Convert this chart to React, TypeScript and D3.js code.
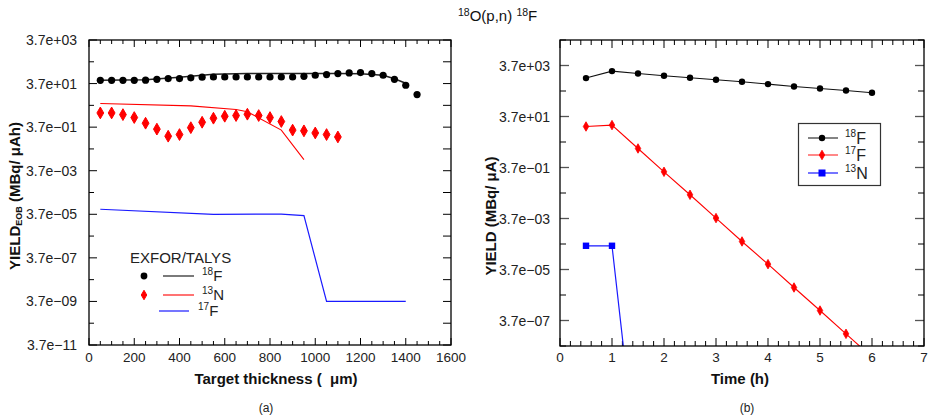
import React from 'react';
import * as d3 from 'd3';

// ---------- Panel (a): yield vs target thickness ----------
const expThickness = [50,100,150,200,250,300,350,400,450,500,550,600,650,700,750,800,850,900,950,1000,1050,1100,1150,1200,1250,1300,1350,1400,1450];
const expF18 = [52,52,52,52,53,58,63,63,68,73,74,74,74,74,74,74,74,74,80,89,96,106,114,118,106,89,58,31,11.6];

const expN13Thickness = [50,100,150,200,250,300,350,400,450,500,550,600,650,700,750,800,850,900,950,1000,1050,1100];
const expN13 = [1.66,1.66,1.39,1.02,0.56,0.30,0.142,0.169,0.35,0.62,0.95,1.17,1.26,1.45,1.26,1.02,0.67,0.27,0.25,0.20,0.169,0.131];

const talysF18Thickness = [50,250,400,550,700,900,1100,1200,1300,1350,1400];
const talysF18 = [52,55,72,98,106,106,106,104,90,62,38];

const talysN13Thickness = [50,450,650,700,850,950];
const talysN13 = [4.5,3.5,2.4,1.9,0.27,0.012];

const talysF17Thickness = [50,550,850,950,1050,1400];
const talysF17 = [6.3e-5,3.7e-5,3.8e-5,3.2e-5,3.7e-9,3.7e-9];

const aXTicks = [0,200,400,600,800,1000,1200,1400,1600];
const aYTicks = [3.7e3,3.7e1,3.7e-1,3.7e-3,3.7e-5,3.7e-7,3.7e-9,3.7e-11];
const aYTickLabels = ['3.7e+03','3.7e+01','3.7e\u221201','3.7e\u221203','3.7e\u221205','3.7e\u221207','3.7e\u221209','3.7e\u221211'];

// ---------- Panel (b): yield vs time ----------
const timeH = [0.5,1,1.5,2,2.5,3,3.5,4,4.5,5,5.5,6];
const timeF18 = [1187,2231,1798,1459,1221,1018,850,691,555,464,387,315];
const timeF17 = [15.0,17.0,2.06,0.251,0.0315,3.84e-3,4.65e-4,6.0e-5,7.28e-6,9.1e-7,1.11e-7,1.35e-8];
const timeN13H = [0.5,1,1.5];
const timeN13 = [3.15e-4,3.15e-4,3e-13];

const bXTicks = [0,1,2,3,4,5,6,7];
const bYTicks = [3.7e3,3.7e1,3.7e-1,3.7e-3,3.7e-5,3.7e-7];
const bYTickLabels = ['3.7e+03','3.7e+01','3.7e\u221201','3.7e\u221203','3.7e\u221205','3.7e\u221207'];

const FONT = '"Liberation Sans", Arial, Helvetica, sans-serif';

function range(a: number, b: number, step: number) {
  const out: number[] = [];
  for (let v = a; v <= b + 1e-9; v += step) out.push(+v.toFixed(6));
  return out;
}

export default function App() {
  const xA = d3.scaleLinear().domain([0, 1600]).range([89, 451]);
  const yA = d3.scaleLog().domain([3.7e-11, 3.7e3]).range([345, 40]);
  const xB = d3.scaleLinear().domain([0, 7]).range([560, 924]);
  const yB = d3.scaleLog().domain([3.7e-8, 3.7e4]).range([346, 40]);

  const lineA = (xs: number[], ys: number[]) =>
    d3.line<number>().x((_, i) => xA(xs[i])).y((d) => yA(d))(ys) || '';
  const lineB = (xs: number[], ys: number[]) =>
    d3.line<number>().x((_, i) => xB(xs[i])).y((d) => yB(d))(ys) || '';

  const diamond = d3.symbol().type(d3.symbolDiamond).size(40)() || '';
  const diamondSmall = d3.symbol().type(d3.symbolDiamond).size(26)() || '';

  const aMinorX = range(0, 1600, 50).filter((v) => v % 200 !== 0);
  const aMinorY = aYTicks.slice(0, -1).map((v) => v / 10);
  const bMinorX = range(0, 7, 0.2).filter((v) => Math.abs(v - Math.round(v)) > 1e-6);
  const bMinorY = [3.7e4, ...bYTicks.map((v) => v / 10)];

  const [aL, aR] = xA.range();
  const [aB, aT] = yA.range();
  const [bL, bR] = xB.range();
  const [bB, bT] = yB.range();

  return (
    <svg width={928} height={420} style={{ display: 'block', position: 'absolute', left: 0, top: 0 }} fontFamily={FONT}>
      <rect x={0} y={0} width={928} height={420} fill="#fff" />
      <defs>
        <clipPath id="clipA"><rect x={aL} y={aT} width={aR - aL} height={aB - aT} /></clipPath>
        <clipPath id="clipB"><rect x={bL} y={bT} width={bR - bL} height={bB - bT} /></clipPath>
      </defs>

      {/* Title */}
      <text x={458} y={21} fontSize={15} fill="#111" style={{ whiteSpace: 'pre' }}>
        <tspan fontSize={10.5} dy={-5}>18</tspan>
        <tspan dy={5}>O(p,n) </tspan>
        <tspan fontSize={10.5} dy={-5}>18</tspan>
        <tspan dy={5}>F</tspan>
      </text>

      {/* ================= Panel A ================= */}
      <g>
        {aXTicks.map((t) => (
          <g key={'ax' + t}>
            <line x1={xA(t)} x2={xA(t)} y1={aB} y2={aB - 7} stroke="#000" />
            <line x1={xA(t)} x2={xA(t)} y1={aT} y2={aT + 7} stroke="#000" />
            <text x={xA(t)} y={362} fontSize={13.5} textAnchor="middle" fill="#222">{t}</text>
          </g>
        ))}
        {aMinorX.map((t) => (
          <g key={'axm' + t}>
            <line x1={xA(t)} x2={xA(t)} y1={aB} y2={aB - 4} stroke="#000" />
            <line x1={xA(t)} x2={xA(t)} y1={aT} y2={aT + 4} stroke="#000" />
          </g>
        ))}
        {aYTicks.map((t, i) => (
          <g key={'ay' + i}>
            <line x1={aL} x2={aL + 8} y1={yA(t)} y2={yA(t)} stroke="#000" />
            <line x1={aR} x2={aR - 8} y1={yA(t)} y2={yA(t)} stroke="#000" />
            <text x={77} y={yA(t) + 5} fontSize={14} textAnchor="end" fill="#222">{aYTickLabels[i]}</text>
          </g>
        ))}
        {aMinorY.map((t, i) => (
          <g key={'aym' + i}>
            <line x1={aL} x2={aL + 5} y1={yA(t)} y2={yA(t)} stroke="#000" />
            <line x1={aR} x2={aR - 8} y1={yA(t)} y2={yA(t)} stroke="#000" />
          </g>
        ))}

        <g clipPath="url(#clipA)">
          <path d={lineA(talysF18Thickness, talysF18)} fill="none" stroke="#222" strokeWidth={1.5} />
          <path d={lineA(talysN13Thickness, talysN13)} fill="none" stroke="#f00" strokeWidth={1.1} />
          <path d={lineA(talysF17Thickness, talysF17)} fill="none" stroke="#1a1aff" strokeWidth={1.2} />
          {expThickness.map((t, i) => (
            <circle key={'ef' + i} cx={xA(t)} cy={yA(expF18[i])} r={3.6} fill="#000" />
          ))}
          {expN13Thickness.map((t, i) => (
            <path key={'en' + i} d={diamond} transform={`translate(${xA(t)},${yA(expN13[i])})`} fill="#f00" stroke="#f00" strokeWidth={1} strokeLinejoin="round" />
          ))}
        </g>

        <rect x={aL} y={aT} width={aR - aL} height={aB - aT} fill="none" stroke="#000" strokeWidth={1.3} />

        <text x={276} y={384} fontSize={15} fontWeight="bold" textAnchor="middle" fill="#111" style={{ whiteSpace: 'pre' }}>
          Target thickness (  μm)
        </text>
        <text x={266} y={412} fontSize={12} textAnchor="middle" fill="#222">(a)</text>
        <text transform="translate(20,196) rotate(-90)" fontSize={15} fontWeight="bold" textAnchor="middle" fill="#111" style={{ whiteSpace: 'pre' }}>
          <tspan>YIELD</tspan>
          <tspan fontSize={9} dy={2}>EOB</tspan>
          <tspan dy={-2}> (MBq/ μAh)</tspan>
        </text>

        {/* legend */}
        <text x={130} y={263} fontSize={15} fill="#222">EXFOR/TALYS</text>
        <circle cx={144} cy={276} r={3.4} fill="#000" />
        <line x1={163} x2={194} y1={276} y2={276} stroke="#222" strokeWidth={1.2} />
        <text x={202} y={281} fontSize={15} fill="#222">
          <tspan fontSize={10} dy={-6}>18</tspan><tspan dy={6}>F</tspan>
        </text>
        <path d={diamondSmall} transform="translate(144,295)" fill="#f00" stroke="#f00" strokeWidth={1} />
        <line x1={163} x2={194} y1={295} y2={295} stroke="#f00" strokeWidth={1.1} />
        <text x={202} y={300} fontSize={15} fill="#222">
          <tspan fontSize={10} dy={-6}>13</tspan><tspan dy={6}>N</tspan>
        </text>
        <line x1={159} x2={189} y1={311} y2={311} stroke="#1a1aff" strokeWidth={1.2} />
        <text x={198} y={316} fontSize={15} fill="#222">
          <tspan fontSize={10} dy={-6}>17</tspan><tspan dy={6}>F</tspan>
        </text>
      </g>

      {/* ================= Panel B ================= */}
      <g>
        {bXTicks.map((t) => (
          <g key={'bx' + t}>
            <line x1={xB(t)} x2={xB(t)} y1={bB} y2={bB - 8} stroke="#000" />
            <line x1={xB(t)} x2={xB(t)} y1={bT} y2={bT + 8} stroke="#000" />
            <text x={xB(t)} y={362} fontSize={13.5} textAnchor="middle" fill="#222">{t}</text>
          </g>
        ))}
        {bMinorX.map((t) => (
          <g key={'bxm' + t}>
            <line x1={xB(t)} x2={xB(t)} y1={bB} y2={bB - 5} stroke="#000" />
            <line x1={xB(t)} x2={xB(t)} y1={bT} y2={bT + 5} stroke="#000" />
          </g>
        ))}
        {bYTicks.map((t, i) => (
          <g key={'by' + i}>
            <line x1={bL} x2={bL + 9} y1={yB(t)} y2={yB(t)} stroke="#555" strokeWidth={1.3} />
            <line x1={bR} x2={bR - 9} y1={yB(t)} y2={yB(t)} stroke="#555" strokeWidth={1.3} />
            <text x={550} y={yB(t) + 5} fontSize={14} textAnchor="end" fill="#222">{bYTickLabels[i]}</text>
          </g>
        ))}
        {bMinorY.map((t, i) => (
          <g key={'bym' + i}>
            <line x1={bL} x2={bL + 6} y1={yB(t)} y2={yB(t)} stroke="#000" />
            <line x1={bR} x2={bR - 6} y1={yB(t)} y2={yB(t)} stroke="#000" />
          </g>
        ))}

        <g clipPath="url(#clipB)">
          <path d={lineB(timeH, timeF18)} fill="none" stroke="#111" strokeWidth={1.1} />
          <path d={lineB(timeH, timeF17)} fill="none" stroke="#f00" strokeWidth={1.1} />
          <path d={lineB(timeN13H, timeN13)} fill="none" stroke="#1a1aff" strokeWidth={1.2} />
          {timeH.map((t, i) => (
            <circle key={'bf18' + i} cx={xB(t)} cy={yB(timeF18[i])} r={3.2} fill="#000" />
          ))}
          {timeH.map((t, i) => (
            <path key={'bf17' + i} d={diamondSmall} transform={`translate(${xB(t)},${yB(timeF17[i])})`} fill="#f00" stroke="#f00" strokeWidth={0.8} />
          ))}
          {timeN13H.map((t, i) => (
            <rect key={'bn13' + i} x={xB(t) - 3.2} y={yB(timeN13[i]) - 3.2} width={6.4} height={6.4} fill="#0000ff" />
          ))}
        </g>

        <rect x={bL} y={bT} width={bR - bL} height={bB - bT} fill="none" stroke="#000" strokeWidth={1.3} />

        <text x={740} y={384} fontSize={15} fontWeight="bold" textAnchor="middle" fill="#111">Time (h)</text>
        <text x={747} y={412} fontSize={12} textAnchor="middle" fill="#222">(b)</text>
        <text transform="translate(496,216) rotate(-90)" fontSize={15} fontWeight="bold" textAnchor="middle" fill="#111" style={{ whiteSpace: 'pre' }}>
          YIELD (MBq/ μA)
        </text>

        {/* legend */}
        <rect x={798.5} y={123.5} width={82} height={62} fill="#fff" stroke="#333" strokeWidth={1.2} />
        <line x1={808} x2={838} y1={138} y2={138} stroke="#333" strokeWidth={1.2} />
        <circle cx={822} cy={138} r={3.2} fill="#000" />
        <text x={845} y={144} fontSize={16} fill="#222">
          <tspan fontSize={10} dy={-7}>18</tspan><tspan dy={7}>F</tspan>
        </text>
        <line x1={808} x2={838} y1={155} y2={155} stroke="#ff6060" strokeWidth={1.5} />
        <path d={diamondSmall} transform="translate(822,155)" fill="#f00" stroke="#f00" strokeWidth={0.8} />
        <text x={845} y={161} fontSize={16} fill="#222">
          <tspan fontSize={10} dy={-7}>17</tspan><tspan dy={7}>F</tspan>
        </text>
        <line x1={808} x2={838} y1={173} y2={173} stroke="#1a1aff" strokeWidth={1.2} />
        <rect x={818.5} y={169.5} width={7} height={7} fill="#0000ff" />
        <text x={845} y={179} fontSize={16} fill="#222">
          <tspan fontSize={10} dy={-7}>13</tspan><tspan dy={7}>N</tspan>
        </text>
      </g>
    </svg>
  );
}
